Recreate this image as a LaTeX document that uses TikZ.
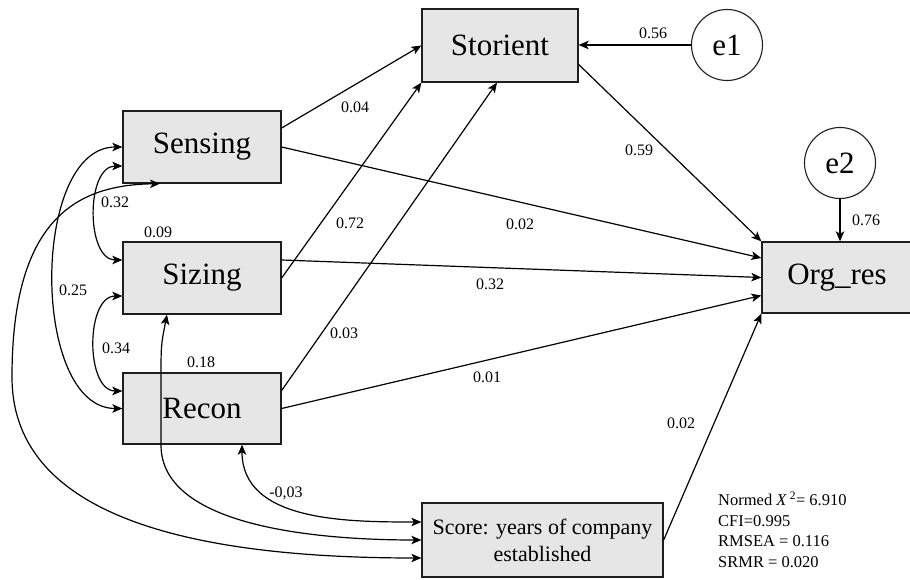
\documentclass[tikz,border=0pt]{standalone}
\usepackage{fontspec}
\setmainfont{Liberation Serif}
\usetikzlibrary{arrows.meta}
\definecolor{boxfill}{HTML}{E6E6E6}
\definecolor{boxline}{HTML}{1E1E1E}
\begin{document}
\begin{tikzpicture}[x=1pt,y=1pt,
  var/.style={draw=boxline,line width=1.3pt,fill=boxfill,rectangle,inner sep=0pt,
    minimum width=158pt,minimum height=72pt,font=\fontsize{31}{36}\selectfont},
  err/.style={draw=boxline,line width=1.1pt,fill=white,circle,inner sep=0pt,
    minimum size=71pt,font=\fontsize{31}{36}\selectfont},
  coef/.style={inner sep=0pt,font=\fontsize{16}{19}\selectfont},
  fit/.style={inner sep=0pt,anchor=base west,font=\fontsize{16.5}{20}\selectfont},
  path/.style={line width=1.2pt,-{Stealth[length=10pt,width=8.5pt,inset=2.5pt]}},
  cov/.style={line width=1.2pt,{Stealth[length=10pt,width=8.5pt,inset=2.5pt]}-{Stealth[length=10pt,width=8.5pt,inset=2.5pt]}}]
\useasboundingbox (0,0) rectangle (910,579);

% observed variables
\node[var,minimum width=156pt,minimum height=73pt] (stor) at (500,533.5) {Storient};
\node[var] (sens) at (202,432) {Sensing};
\node[var] (size) at (202,301) {Sizing};
\node[var,minimum height=71pt] (reco) at (202,170.5) {Recon};
\node[var,minimum width=150pt,minimum height=71pt] (org) at (837,301.5) {Org\_res};
\node[var,minimum width=241pt,minimum height=74pt,align=center,
      font=\fontsize{22}{27}\selectfont] (score) at (542.5,39) {Score: years of company\\established};

% error terms
\node[err] (e1) at (727,534) {e1};
\node[err] (e2) at (840,416) {e2};

% directed paths
\draw[path] ([yshift=19pt]sens.east) -- (stor.west);
\draw[path] (sens.east) -- ([yshift=19.5pt]org.west);
\draw[path] (size.east) -- (stor.south west);
\draw[path] ([yshift=18pt]size.east) -- (org.west);
\draw[path] ([yshift=18pt]reco.east) -- ([xshift=-3pt]stor.south);
\draw[path] (reco.east) -- ([yshift=-18pt]org.west);
\draw[path] ([yshift=-19pt]stor.east) -- (org.north west);
\draw[path] (score.east) -- (org.south west);
\draw[path] (e1.west) -- (e1.west -| stor.east);
\draw[path] (e2.south) -- (e2.south |- org.north);

% covariances among the predictors
\draw[cov] ([yshift=-19pt]sens.west) to[out=180,in=180] ([yshift=18pt]size.west);
\draw[cov] ([yshift=-18pt]size.west) to[out=180,in=180] ([yshift=17.5pt]reco.west);
\draw[cov] (sens.west) to[out=180,in=180,looseness=0.9] (reco.west);

% covariances with the control variable
\draw[cov] ([xshift=40pt]reco.south) to[out=-90,in=180] ([yshift=18pt]score.west);
\draw[cov] ([xshift=-35pt]size.south) .. controls (161,234) .. (161,199)
  -- (161,134) .. controls (161,49) and (330,39) .. (score.west);
\draw[cov] ([xshift=-42pt]sens.south) .. controls (80,394) and (12,364) .. (12,202)
  .. controls (12,59) and (200,21) .. ([yshift=-18pt]score.west);

% coefficients
\node[coef] (c1) at (355,472) {0.04};
\node[coef] (c2) at (350,356) {0.72};
\node[coef] (c3) at (344,246) {0.03};
\node[coef] (c4) at (639,429) {0.59};
\node[coef] (c5) at (520,355) {0.02};
\node[coef] (c6) at (490,295) {0.32};
\node[coef] (c7) at (487,202) {0.01};
\node[coef] (c8) at (681,156) {0.02};
\node[coef] (c9) at (653,546) {0.56};
\node[coef] (c10) at (866,359) {0.76};
\node[coef] (c11) at (115,377) {0.32};
\node[coef] (c12) at (73,289) {0.25};
\node[coef] (c13) at (116,231) {0.34};
\node[coef] (c14) at (158,347) {0.09};
\node[coef] (c15) at (201,217) {0.18};
\node[coef] (c16) at (286,86) {-0,03};

% fit indices
\node[fit] (f1) at (718,73.3) {Normed \textit{X}\,\textsuperscript{2}= 6.910};
\node[fit] (f2) at (718,53) {CFI=0.995};
\node[fit] (f3) at (718,32.3) {RMSEA = 0.116};
\node[fit] (f4) at (718,11.3) {SRMR = 0.020};
\end{tikzpicture}
\end{document}
